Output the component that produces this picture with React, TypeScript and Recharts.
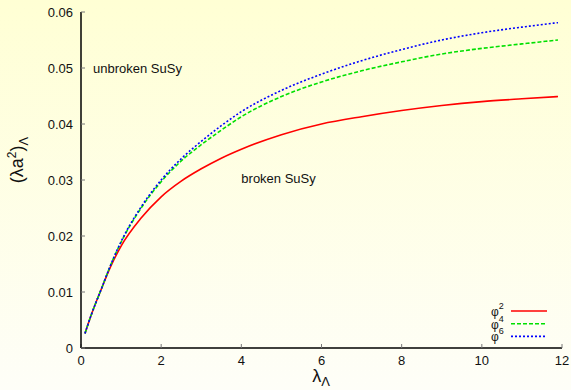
import {
	Legend,
	Line,
	LineChart,
	ReferenceDot,
	XAxis,
	YAxis,
} from "recharts";

const lambdaValues = [0.1, 0.25, 0.5, 0.75, 1, 1.5, 2, 2.5, 3, 3.5, 4, 5, 6, 7, 8, 9, 10, 11, 11.9];
const phi2Values = [0.0026, 0.0058, 0.0104, 0.0147, 0.0182, 0.0232, 0.027, 0.0298, 0.032, 0.0339, 0.0355, 0.0381, 0.04, 0.0413, 0.0424, 0.0433, 0.044, 0.0445, 0.0449];
const phi4Values = [0.0026, 0.0058, 0.0104, 0.015, 0.0189, 0.025, 0.0297, 0.0334, 0.0363, 0.0389, 0.0413, 0.0449, 0.0475, 0.0495, 0.0511, 0.0525, 0.0535, 0.0543, 0.055];
const phi6Values = [0.0026, 0.0058, 0.0104, 0.015, 0.019, 0.0252, 0.03, 0.0338, 0.0369, 0.0397, 0.0422, 0.046, 0.0489, 0.0513, 0.0533, 0.055, 0.0563, 0.0573, 0.0581];

const xTicks = [0, 2, 4, 6, 8, 10, 12];
const yTicks = [0, 0.01, 0.02, 0.03, 0.04, 0.05, 0.06];
const yTickLabels = ["0", "0.01", "0.02", "0.03", "0.04", "0.05", "0.06"];

const seriesNames = ["2", "4", "6"];

const data = lambdaValues.map((x, i) => ({
	x,
	phi2: phi2Values[i],
	phi4: phi4Values[i],
	phi6: phi6Values[i],
}));

const FONT = "'Liberation Sans', Arial, Helvetica, sans-serif";
const tickStyle = { fontSize: 13, fill: "#111", fontFamily: FONT };

const legendRows = [
	{ sup: seriesNames[0], stroke: "#ff0000", dash: undefined },
	{ sup: seriesNames[1], stroke: "#00e000", dash: "4 2" },
	{ sup: seriesNames[2], stroke: "#0000ff", dash: "2 2" },
];

const LegendBox = () => (
	<svg width={90} height={50}>
		{legendRows.map((row, i) => (
			<g key={i}>
				<text x={21} y={18 + i * 12.7} fontSize={12} fontFamily={FONT} fill="#111">
					φ
					<tspan dy={-7} fontSize={9}>
						{row.sup}
					</tspan>
				</text>
				<line
					x1={41}
					x2={77}
					y1={13 + i * 12.7}
					y2={13 + i * 12.7}
					stroke={row.stroke}
					strokeWidth={1.6}
					strokeDasharray={row.dash}
				/>
			</g>
		))}
	</svg>
);

const App = () => {
	return (
		<div
			style={{
				position: "absolute",
				left: 0,
				top: 0,
				width: 571,
				height: 390,
				background: "linear-gradient(to bottom, #ffffd4, #fefef8)",
			}}
		>
			<LineChart
				width={571}
				height={390}
				data={data}
				margin={{ top: 12, right: 9, left: 0, bottom: 0 }}
			>
				<XAxis
					dataKey="x"
					type="number"
					domain={[0, 12]}
					ticks={xTicks}
					height={42}
					tickSize={-4}
					tickMargin={12}
					tick={tickStyle}
					axisLine={{ stroke: "#000", strokeWidth: 1.5 }}
					tickLine={{ stroke: "#777" }}
				/>
				<XAxis
					xAxisId="top"
					dataKey="x"
					type="number"
					orientation="top"
					domain={[0, 12]}
					ticks={xTicks}
					height={0}
					tickSize={-4}
					tick={false}
					axisLine={{ stroke: "#000", strokeWidth: 1.5 }}
					tickLine={{ stroke: "#777" }}
				/>
				<YAxis
					type="number"
					domain={[0, 0.06]}
					ticks={yTicks}
					width={81}
					tickSize={-4}
					tickMargin={12}
					tick={tickStyle}
					tickFormatter={(v: number) => yTickLabels[yTicks.indexOf(v)] ?? String(v)}
					axisLine={{ stroke: "#000", strokeWidth: 1.5 }}
					tickLine={{ stroke: "#777" }}
				/>
				<YAxis
					yAxisId="right"
					type="number"
					orientation="right"
					domain={[0, 0.06]}
					ticks={yTicks}
					width={0}
					tickSize={-4}
					tick={false}
					axisLine={{ stroke: "#000", strokeWidth: 1.5 }}
					tickLine={{ stroke: "#777" }}
				/>

				<Line
					dataKey="phi2"
					type="monotone"
					stroke="#ff0000"
					strokeWidth={1.6}
					dot={false}
					isAnimationActive={false}
				/>
				<Line
					dataKey="phi4"
					type="monotone"
					stroke="#00e000"
					strokeWidth={1.6}
					strokeDasharray="4 2"
					dot={false}
					isAnimationActive={false}
				/>
				<Line
					dataKey="phi6"
					type="monotone"
					stroke="#0000ff"
					strokeWidth={1.6}
					strokeDasharray="2 2"
					dot={false}
					isAnimationActive={false}
				/>

				<ReferenceDot
					x={0.3}
					y={0.05}
					r={0}
					fill="none"
					stroke="none"
					label={{ value: "unbroken SuSy", position: "right", offset: 0, fontSize: 13, fill: "#111", fontFamily: FONT }}
				/>
				<ReferenceDot
					x={4.0}
					y={0.0302}
					r={0}
					fill="none"
					stroke="none"
					label={{ value: "broken SuSy", position: "right", offset: 0, fontSize: 13, fill: "#111", fontFamily: FONT }}
				/>

				<Legend
					layout="vertical"
					align="center"
					verticalAlign="middle"
					wrapperStyle={{ position: "absolute", left: 470, top: 298, width: 90, height: 50 }}
					content={() => <LegendBox />}
				/>

				{/* axis titles */}
				<text
					x={321}
					y={382}
					textAnchor="middle"
					fontSize={18}
					fontFamily={FONT}
					fill="#111"
				>
					λ
					<tspan dy={4} fontSize={13}>
						Λ
					</tspan>
				</text>
				<text
					transform="translate(23,160) rotate(-90)"
					textAnchor="middle"
					fontSize={18}
					fontFamily={FONT}
					fill="#111"
				>
					(λa
					<tspan dy={-7} fontSize={12}>
						2
					</tspan>
					<tspan dy={7}>)</tspan>
					<tspan dy={5} fontSize={13}>
						Λ
					</tspan>
				</text>
			</LineChart>
		</div>
	);
};

export default App;
